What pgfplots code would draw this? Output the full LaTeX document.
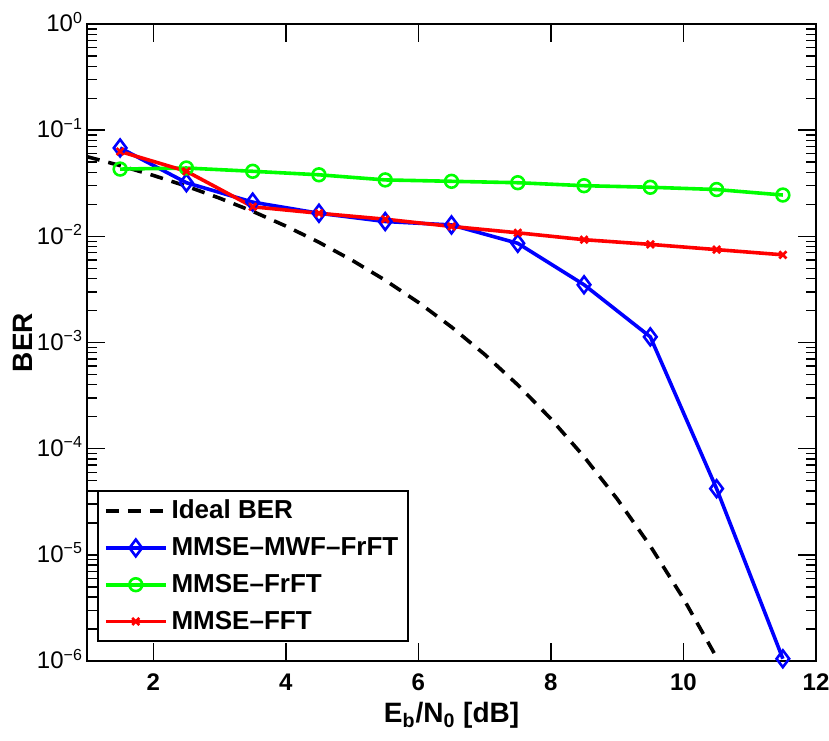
\documentclass[border=0pt]{standalone}
\usepackage{fontspec}
\setmainfont{Liberation Sans}
\usepackage{pgfplots}
\pgfplotsset{compat=1.18}

\definecolor{mblue}{RGB}{0,0,255}
\definecolor{mgreen}{RGB}{0,255,0}
\definecolor{mred}{RGB}{255,0,0}

\begin{document}
\begin{tikzpicture}
\begin{axis}[
name=ax,
scale only axis,
width=364.5pt, height=318.5pt,
font=\fontsize{12}{14}\selectfont,
ymode=log,
xmin=1, xmax=12,
ymin=1e-6, ymax=1,
xtick={2,4,6,8,10,12},
xticklabels={2,4,6,8,10,12},
xticklabel style={font=\bfseries\fontsize{12}{14}\selectfont, yshift=-3pt},
ytick={1e-6,1e-5,1e-4,1e-3,1e-2,1e-1,1},
yticklabels={10\textsuperscript{−6},10\textsuperscript{−5},10\textsuperscript{−4},10\textsuperscript{−3},10\textsuperscript{−2},10\textsuperscript{−1},10\textsuperscript{0}},
yticklabel style={xshift=1.5pt, yshift=1pt},
tick align=inside,
tick pos=both,
major tick length=9pt,
minor tick length=5pt,
every tick/.style={black, line width=0.7pt},
axis line style={line width=1pt},
xlabel={E\textsubscript{b}/N\textsubscript{0} [dB]},
ylabel={BER},
xlabel style={font=\bfseries\fontsize{14}{16}\selectfont, at={(axis description cs:0.5,-0.0973)}, anchor=base},
ylabel style={font=\bfseries\fontsize{14}{16}\selectfont, at={(axis description cs:-0.0741,0.5)}, anchor=base},
legend cell align={left},
legend style={at={(0.0137,0.0298)}, anchor=south west, draw=black, line width=1pt,
  font=\bfseries\fontsize{13}{16}\selectfont, row sep=3.8pt, inner xsep=3pt, inner ysep=2.5pt},
legend image code/.code={\draw[mark repeat=2, mark phase=2] plot coordinates {(0pt,0pt) (15pt,0pt) (30pt,0pt)};},
]
% Ideal BER
\addplot [black, line width=1.8pt, dash pattern=on 6.5pt off 4.5pt]
table {%
1 0.0563
1.5 0.0464
2 0.0375
2.5 0.0297
3 0.0229
3.5 0.0172
4 0.0125
4.5 0.00879
5 0.00595
5.5 0.00386
6 0.00239
6.5 0.00140
7 0.000773
7.5 0.000399
8 0.000191
8.5 8.40e-5
9 3.36e-5
9.5 1.21e-5
10 3.87e-6
10.5 1.08e-6
11 2.6e-7
};
\addlegendentry{Ideal BER}
% MMSE-MWF-FrFT
\addplot [mblue, line width=1.8pt, mark=diamond, mark size=4.2pt, mark options={solid, line width=1.3pt}]
table {%
1.5 0.068
2.5 0.032
3.5 0.021
4.5 0.0165
5.5 0.0138
6.5 0.0128
7.5 0.0086
8.5 0.0035
9.5 0.00113
10.5 4.2e-5
11.5 1.05e-6
};
\addlegendentry{MMSE–MWF–FrFT}
% MMSE-FrFT
\addplot [mgreen, line width=1.8pt, mark=o, mark size=3.2pt, mark options={solid, line width=1.3pt}]
table {%
1.5 0.043
2.5 0.044
3.5 0.041
4.5 0.038
5.5 0.034
6.5 0.033
7.5 0.032
8.5 0.030
9.5 0.029
10.5 0.0276
11.5 0.0245
};
\addlegendentry{MMSE–FrFT}
% MMSE-FFT
\addplot [mred, line width=1.8pt, mark=x, mark size=2.5pt, mark options={solid, line width=1.3pt}]
table {%
1.5 0.063
2.5 0.041
3.5 0.019
4.5 0.0165
5.5 0.0145
6.5 0.0124
7.5 0.0108
8.5 0.0093
9.5 0.0084
10.5 0.0075
11.5 0.0067
};
\addlegendentry{MMSE–FFT}
\end{axis}
\pgfresetboundingbox
\path ([shift={(-43.5pt,-39.5pt)}]ax.south west) rectangle ([shift={(6.5pt,12pt)}]ax.north east);
\end{tikzpicture}
\end{document}
